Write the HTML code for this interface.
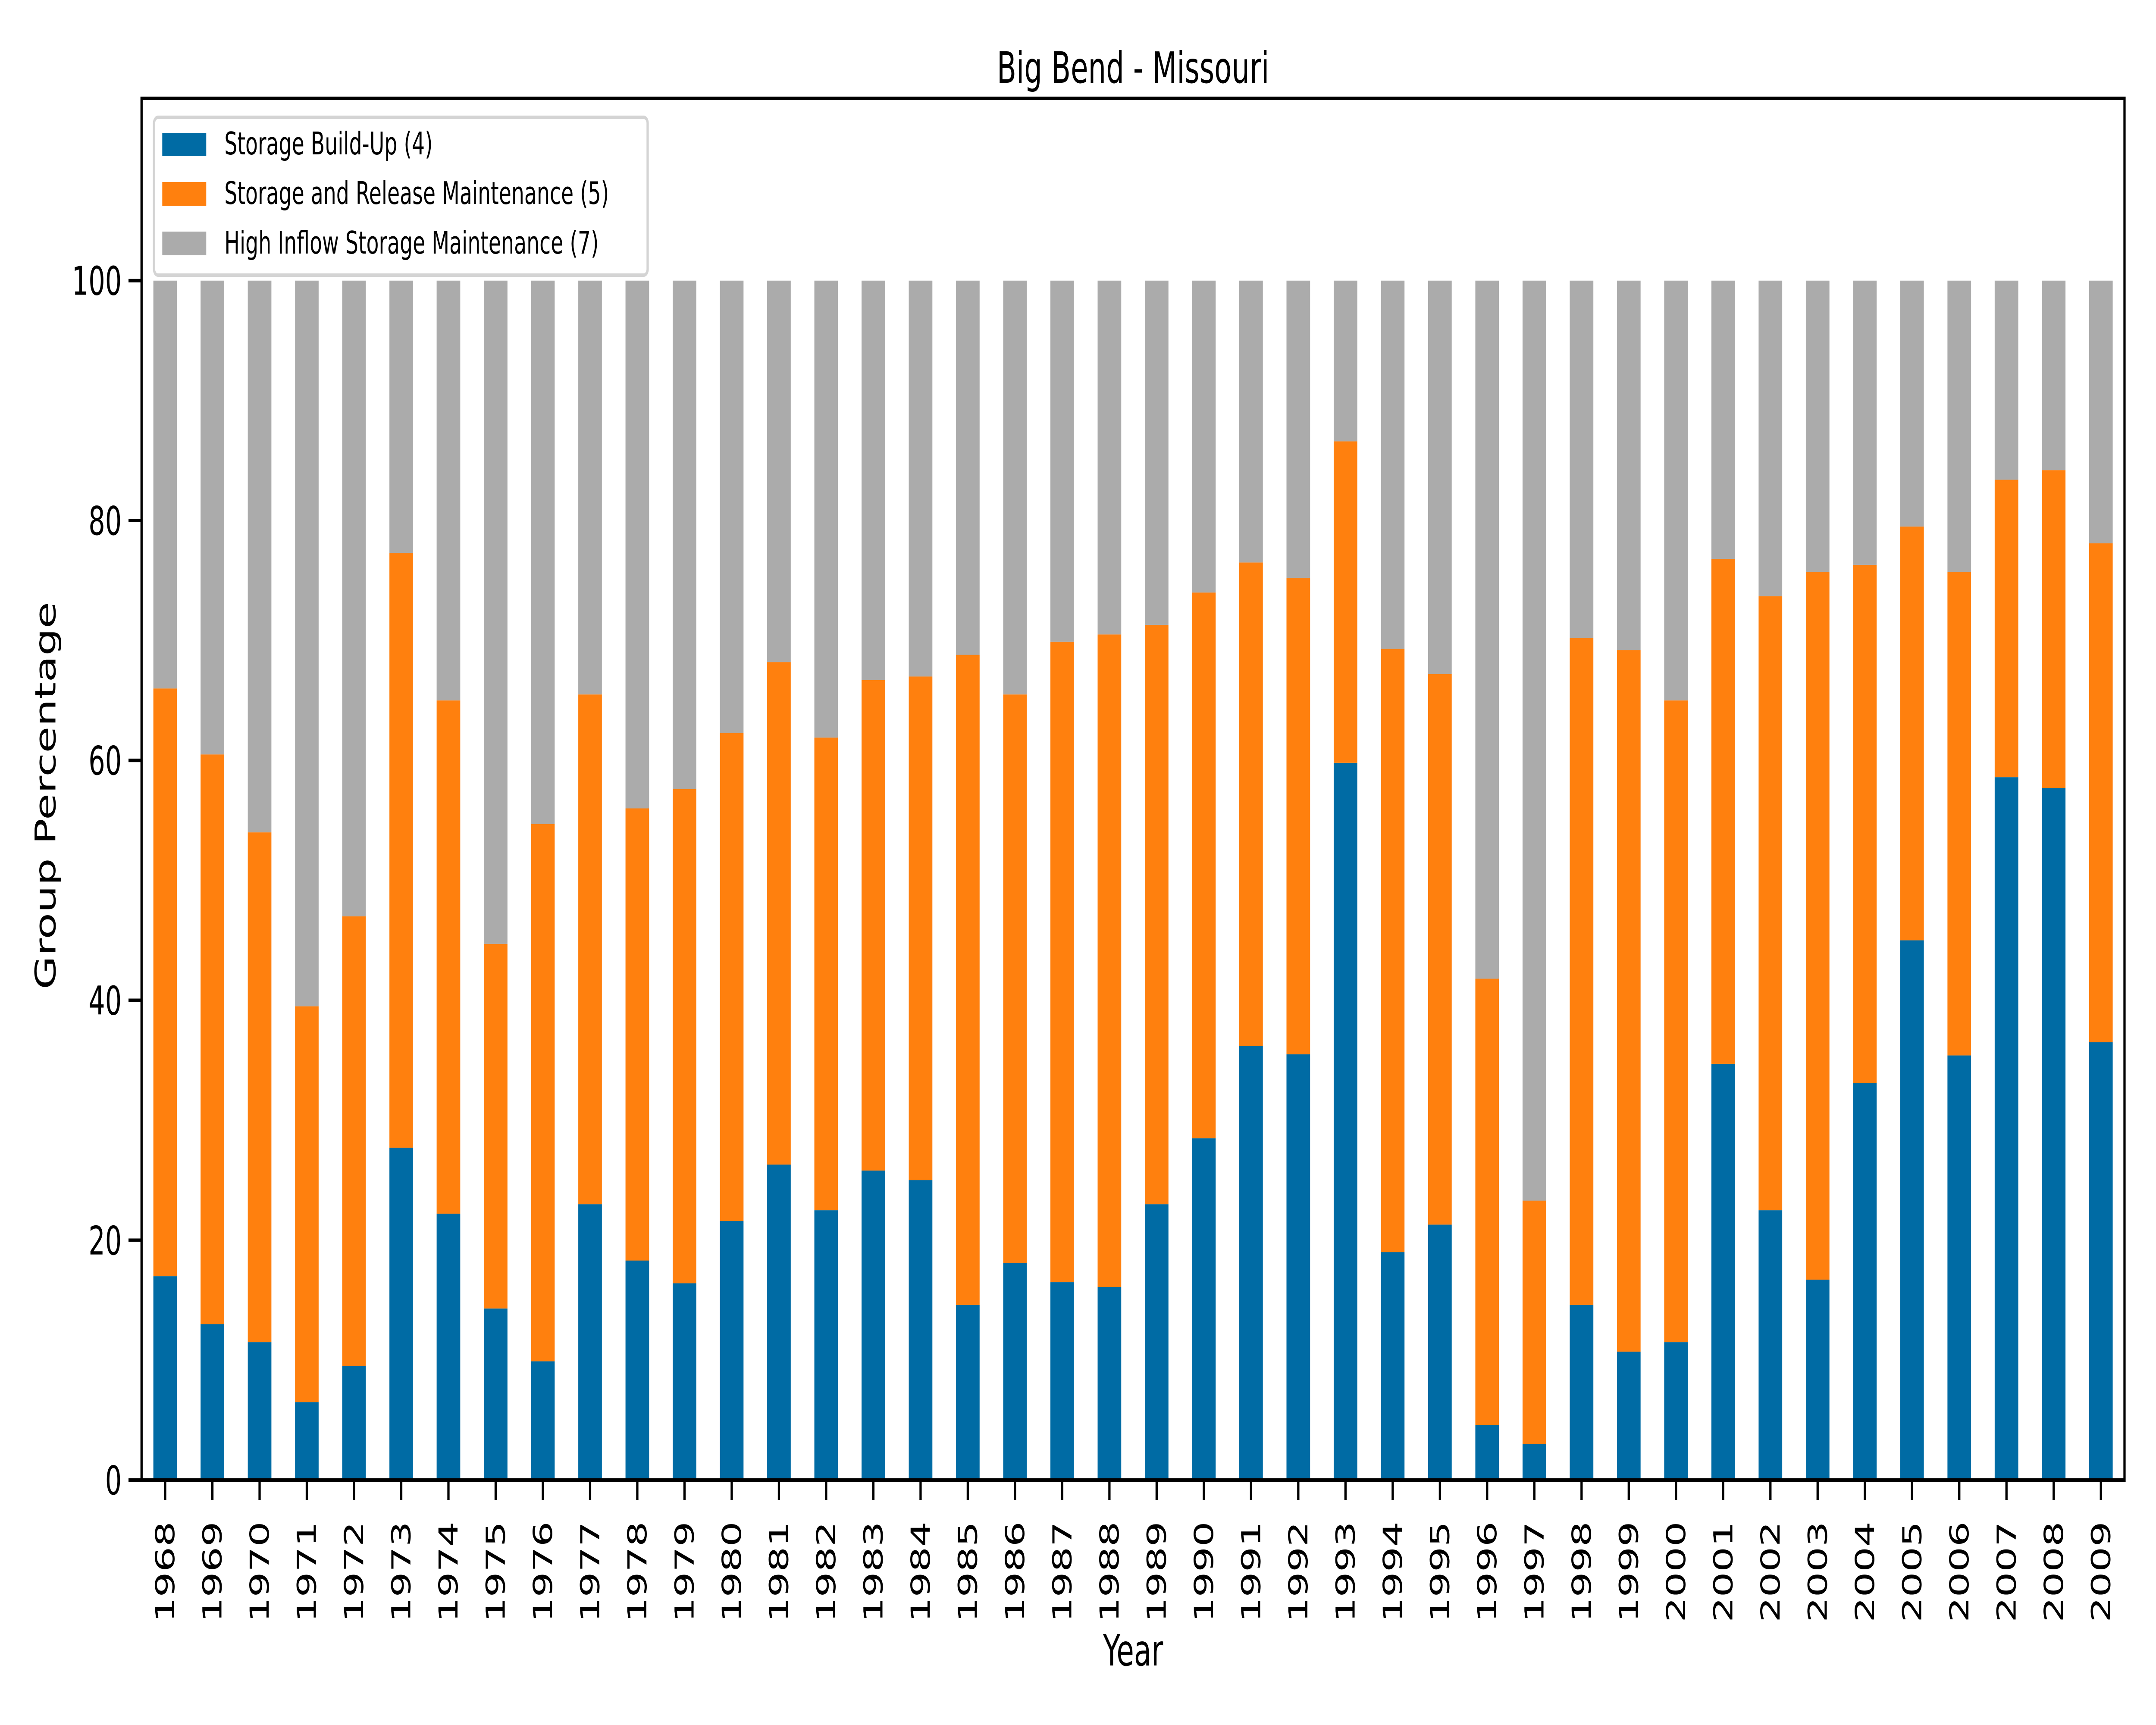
<!DOCTYPE html>
<html><head><meta charset="utf-8"><style>html,body{margin:0;padding:0;background:#fff;overflow:hidden}svg{display:block;width:100vw;height:100vh}text{font-family:"DejaVu Sans","Liberation Sans",sans-serif;fill:#000}</style></head>
<body>
<svg id="chart" viewBox="0 0 7600 4000" preserveAspectRatio="none" xmlns="http://www.w3.org/2000/svg">
<rect width="7600" height="4000" fill="#fff"/>
<g id="bars"></g>
<g id="axes"></g>
<text x="3994" y="192" font-size="100" text-anchor="middle">Big Bend - Missouri</text>
<text x="3994" y="3862" font-size="100" text-anchor="middle">Year</text>
<text transform="translate(195,1845) rotate(-90)" font-size="100" text-anchor="middle">Group Percentage</text>
<g>
<rect x="543" y="272" width="1740" height="366" rx="14" fill="#fff" fill-opacity="0.8" stroke="#d4d4d4" stroke-width="8"/>
<rect x="572" y="308" width="155" height="54" fill="#006ba4"/>
<text x="791" y="358" font-size="72">Storage Build-Up (4)</text>
<rect x="572" y="422" width="155" height="55" fill="#ff800e"/>
<text x="791" y="473" font-size="72">Storage and Release Maintenance (5)</text>
<rect x="572" y="537" width="155" height="55" fill="#ababab"/>
<text x="791" y="588" font-size="72">High Inflow Storage Maintenance (7)</text>
</g>
</svg>
<script>
const years = [1968,1969,1970,1971,1972,1973,1974,1975,1976,1977,1978,1979,1980,1981,1982,1983,1984,1985,1986,1987,1988,1989,1990,1991,1992,1993,1994,1995,1996,1997,1998,1999,2000,2001,2002,2003,2004,2005,2006,2007,2008,2009];
const buildUp = [17,13,11.5,6.5,9.5,27.7,22.2,14.3,9.9,23,18.3,16.4,21.6,26.3,22.5,25.8,25,14.6,18.1,16.5,16.1,23,28.5,36.2,35.5,59.8,19,21.3,4.6,3,14.6,10.7,11.5,34.7,22.5,16.7,33.1,45,35.4,58.6,57.7,36.5];
const releaseMaint = [49,47.5,42.5,33,37.5,49.6,42.8,30.4,44.8,42.5,37.7,41.2,40.7,41.9,39.4,40.9,42,54.2,47.4,53.4,54.4,48.3,45.5,40.3,39.7,26.8,50.3,45.9,37.2,20.3,55.6,58.5,53.5,42.1,51.2,59,43.2,34.5,40.3,24.8,26.5,41.6];
const yTicks = [0,20,40,60,80,100];

const NS='http://www.w3.org/2000/svg';
const L=499,R=7489,T=228,B=3432,YMAX=115.2;
const step=(R-L)/years.length;
function xc(i){return L+step*(i+0.5);}
function y(v){return B-(B-T)*v/YMAX;}
function mk(tag,attrs,parent){const e=document.createElementNS(NS,tag);for(const k in attrs)e.setAttribute(k,attrs[k]);parent.appendChild(e);return e;}
const bars=document.getElementById('bars'),axes=document.getElementById('axes');
const bw=step*0.5;
years.forEach((yr,i)=>{
  const b=buildUp[i],o=releaseMaint[i],top=b+o;
  let r=mk('rect',{x:xc(i)-bw/2,y:y(b),width:bw,height:y(0)-y(b),fill:'#006ba4'},bars);
  
  
  r=mk('rect',{x:xc(i)-bw/2,y:y(top),width:bw,height:y(b)-y(top),fill:'#ff800e'},bars);
  
  
  r=mk('rect',{x:xc(i)-bw/2,y:y(100),width:bw,height:y(top)-y(100),fill:'#ababab'},bars);
  
  
  const t=mk('line',{x1:xc(i),x2:xc(i),y1:B,y2:B+46,stroke:'#000','stroke-width':8},axes);
  
  
  const tx=mk('text',{transform:`translate(${xc(i)+32},3528) rotate(-90)`,'font-size':92,'text-anchor':'end'},axes);
  tx.textContent=yr;
  
  
});
yTicks.forEach(v=>{
  const t=mk('line',{x1:L-46,x2:L,y1:y(v),y2:y(v),stroke:'#000','stroke-width':8},axes);
  
  
  const tx=mk('text',{x:L-70,y:y(v)+33,'font-size':92,'text-anchor':'end'},axes);
  tx.textContent=v;
  
  
});
const fr=mk('rect',{x:L,y:T,width:R-L,height:B-T,fill:'none',stroke:'#000','stroke-width':8},axes);


</script>
</body></html>
